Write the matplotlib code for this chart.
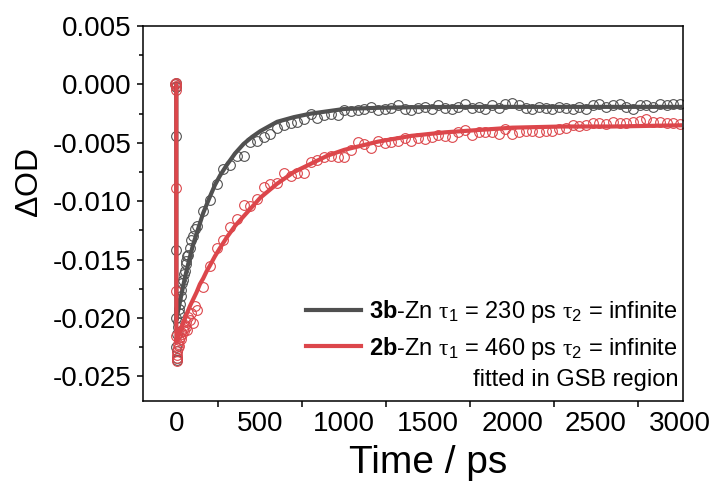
import matplotlib
matplotlib.use("Agg")
import matplotlib.pyplot as plt
import numpy as np

plt.rcParams['font.family'] = ['Liberation Sans', 'DejaVu Sans']
plt.rcParams['mathtext.fontset'] = 'custom'
plt.rcParams['mathtext.rm'] = 'Liberation Sans'
plt.rcParams['mathtext.it'] = 'Liberation Serif'
plt.rcParams['mathtext.bf'] = 'Liberation Sans:bold'

# delay times (ps) of the measured points
time_ps = [-10, -5, -2, -1, -0.5, 0, 0.5, 1, 2, 3, 5, 7, 10, 13, 16, 20, 25, 30,
           35, 40, 45, 50, 55, 60, 65, 70, 80, 90, 100, 110, 120,
           160, 200, 240, 280, 320, 360, 400, 440, 480, 520, 560, 600, 640, 680,
           720, 760, 800, 840, 880, 920, 960, 1000, 1040, 1080, 1120, 1160, 1200,
           1240, 1280, 1320, 1360, 1400, 1440, 1480, 1520, 1560, 1600, 1640, 1680,
           1720, 1760, 1800, 1840, 1880, 1920, 1960, 2000, 2040, 2080, 2120, 2160,
           2200, 2240, 2280, 2320, 2360, 2400, 2440, 2480, 2520, 2560, 2600, 2640,
           2680, 2720, 2760, 2800, 2840, 2880, 2920, 2960, 3000]

# dOD x 1e4
od_3b = [0, 1, -2, -44, -142, -200, -225, -234, -236, -228, -214, -208, -203, -196,
         -192, -188, -181, -176, -170, -167, -162, -160, -154, -151, -147, -146,
         -140, -133, -130, -124, -121,
         -108, -99, -85, -72, -69, -61, -61, -49, -48, -45, -42, -37, -35, -33,
         -32, -30, -25, -29, -26, -25, -26, -22, -23, -22, -21, -19, -22,
         -21, -20, -18, -21, -22, -20, -19, -21, -18, -20, -21, -19,
         -17, -20, -19, -21, -18, -20, -17, -16, -18, -20, -21, -19,
         -20, -21, -19, -20, -21, -19, -21, -18, -17, -19, -18, -17,
         -19, -21, -18, -18, -19, -17, -18, -17, -17]
od_2b = [0, 1, -1, -5, -89, -177, -215, -232, -237, -234, -228, -226, -222, -224,
         -219, -216, -218, -212, -214, -209, -211, -206, -208, -203, -210, -199,
         -202, -196, -204, -190, -193,
         -173, -155, -140, -133, -122, -115, -103, -104, -98, -88, -85, -84, -76, -78,
         -76, -76, -66, -65, -62, -61, -62, -62, -56, -49, -51, -54, -48,
         -50, -49, -48, -46, -48, -46, -47, -45, -43, -44, -45, -41,
         -39, -43, -41, -41, -41, -42, -38, -42, -41, -40, -40, -41,
         -40, -40, -38, -37, -35, -36, -35, -33, -33, -34, -32, -33,
         -33, -32, -31, -30, -32, -32, -33, -33, -34]

# fitted curves (tau1 = 230 / 460 ps, tau2 = infinite)
fit_time = [-0.5, 0, 10, 20, 30, 40, 50, 60, 80, 100, 120, 140, 160, 180, 200, 230,
            260, 300, 350, 400, 450, 500, 600, 700, 800, 900, 1000, 1200, 1400,
            1600, 1800, 2000, 2300, 2600, 3000]
fit_3b = [0, -202, -194, -187, -180, -173, -166, -160, -148, -137, -128, -119, -110,
          -103, -96, -86, -78, -69, -59, -51, -45, -40, -32, -28, -25, -23, -21,
          -20, -19.5, -19.3, -19.2, -19.2, -19.2, -19.2, -19.2]
fit_2b = [0, -220, -216, -212, -208, -205, -201, -197, -190, -184, -178, -171, -166,
          -160, -155, -147, -140, -131, -121, -113, -105, -97, -85, -75, -68, -61,
          -56, -49, -44, -41, -39, -37, -36, -36, -35]

gray = '#505050'
red = '#dc464b'

t = np.array(time_ps)
fig = plt.figure(figsize=(7.14, 4.82), dpi=100)
ax = fig.add_axes([0.200, 0.168, 0.757, 0.778])

ax.plot(t, np.array(od_3b) * 1e-4, 'o', ms=7, mfc='none', mec=gray, mew=0.8)
ax.plot(t, np.array(od_2b) * 1e-4, 'o', ms=7, mfc='none', mec=red, mew=0.8)
l1, = ax.plot(fit_time, np.array(fit_3b) * 1e-4, '-', color=gray, lw=3)
l2, = ax.plot(fit_time, np.array(fit_2b) * 1e-4, '-', color=red, lw=3)

ax.set_xlim(-200, 3020)
ax.set_ylim(-0.0271, 0.005)
ax.set_xticks([0, 500, 1000, 1500, 2000, 2500, 3000])
ax.set_xticks([250, 750, 1250, 1750, 2250, 2750], minor=True)
ax.set_yticks([0.005, 0.0, -0.005, -0.010, -0.015, -0.020, -0.025])
ax.set_yticklabels(['0.005', '0.000', '-0.005', '-0.010', '-0.015', '-0.020', '-0.025'])
ax.set_yticks([0.0025, -0.0025, -0.0075, -0.0125, -0.0175, -0.0225], minor=True)
ax.tick_params(axis='x', which='major', length=0, pad=7, labelsize=20)
ax.tick_params(axis='x', which='minor', length=4, width=1.1, direction='out')
ax.tick_params(axis='y', which='major', length=4.5, width=1.1, direction='out', labelsize=20)
ax.tick_params(axis='y', which='minor', length=3, width=1.1, direction='out')
for s in ax.spines.values():
    s.set_linewidth(1.1)

ax.set_xlabel('Time / ps', fontsize=28)
ax.xaxis.set_label_coords(0.528, -0.118)
ax.set_ylabel(r'$\Delta$OD', fontsize=23)
ax.yaxis.set_label_coords(-0.181, 0.58)

ax.legend([l1, l2],
          [r'$\mathbf{3b}$-Zn $\tau_1$ = 230 ps $\tau_2$ = infinite',
           r'$\mathbf{2b}$-Zn $\tau_1$ = 460 ps $\tau_2$ = infinite'],
          loc='center right', bbox_to_anchor=(1.011, 0.19), frameon=False,
          fontsize=17, handlelength=2.3, handletextpad=0.35, labelspacing=0.42,
          borderaxespad=0.1)
ax.text(0.992, 0.055, 'fitted in GSB region', transform=ax.transAxes,
        ha='right', va='center', fontsize=17)

fig.savefig('out.png', dpi=100)
